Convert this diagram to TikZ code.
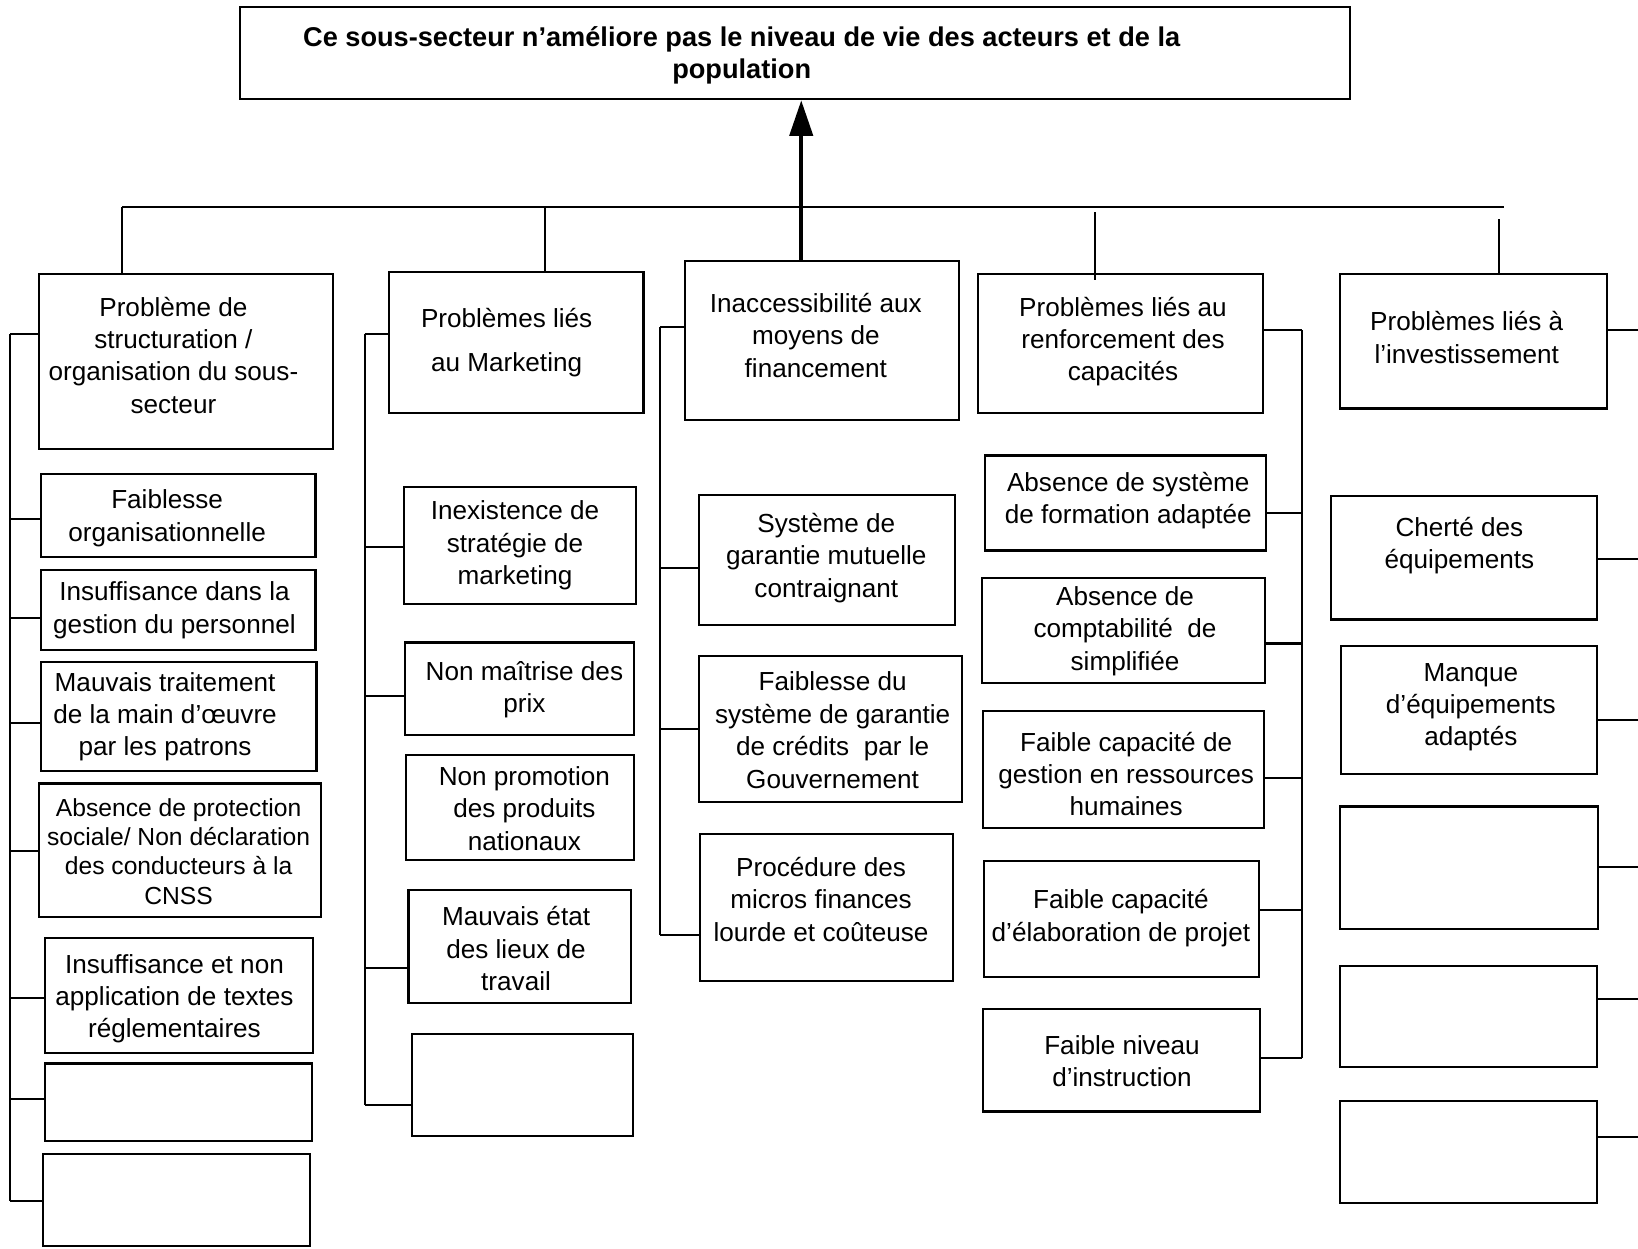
\documentclass[tikz,border=0pt]{standalone}
\usepackage{fontspec}
\setmainfont{Liberation Sans}
\usetikzlibrary{fit,arrows.meta}
\tikzset{
  boxst/.style={draw, line width=1pt, inner sep=0pt},
  txt/.style={align=center, inner sep=0pt, font=\fontsize{12.5}{15.5}\selectfont},
  conn/.style={line width=1pt},
  bigarrow/.style={line width=2pt, -{Triangle[length=17pt,width=11pt]}}
}
\newcommand{\bx}[5]{\node[boxst, fit={(#2,#3) (#4,#5)}] (#1) {};}
\newcommand{\stubL}[3]{\coordinate (s#1) at (#2,#3); \draw[conn] (s#1) -- (#1.west |- s#1);}
\newcommand{\stubR}[3]{\coordinate (s#1) at (#2,#3); \draw[conn] (s#1) -- (#1.east |- s#1);}
\begin{document}
\begin{tikzpicture}[x=0.5pt,y=-0.5pt]
\useasboundingbox (0,0) rectangle (1568,1195);
% boxes
\bx{title}{230}{7}{1292}{95}
\bx{h1}{37}{262}{319}{430}
\bx{c11}{39}{454}{302}{533}
\bx{c12}{39}{546}{302}{622}
\bx{c13}{39}{634}{303}{738}
\bx{c14}{37}{750}{307}{878}
\bx{c15}{43}{898}{300}{1008}
\bx{c16}{43}{1018}{299}{1092}
\bx{c17}{41}{1105}{297}{1193}
\bx{h2}{372}{260}{616}{395}
\bx{c21}{387}{466}{609}{578}
\bx{c22}{388}{615}{607}{704}
\bx{c23}{389}{723}{607}{823}
\bx{c24}{391}{852}{604}{960}
\bx{c25}{394}{990}{606}{1087}
\bx{h3}{656}{250}{918}{402}
\bx{c31}{669}{474}{914}{598}
\bx{c32}{669}{628}{921}{768}
\bx{c33}{670}{798}{912}{939}
\bx{h4}{936}{262}{1209}{395}
\bx{c41}{943}{436}{1212}{527}
\bx{c42}{940}{553}{1211}{654}
\bx{c43}{941}{681}{1210}{793}
\bx{c44}{942}{824}{1205}{935}
\bx{c45}{941}{966}{1206}{1064}
\bx{h5}{1283}{262}{1538}{391}
\bx{c51}{1274}{475}{1529}{593}
\bx{c52}{1284}{618}{1529}{741}
\bx{c53}{1283}{772}{1530}{889}
\bx{c54}{1283}{925}{1529}{1021}
\bx{c55}{1283}{1054}{1529}{1152}
% texts
\node[txt, font=\bfseries\fontsize{13}{15.5}\selectfont] (title-t) at (710,53) {Ce sous-secteur n’améliore pas le niveau de vie des acteurs et de la\\population};
\node[txt] (h1-t) at (166,340) {Problème de\\structuration /\\organisation du sous-\\secteur};
\node[txt] (c11-t) at (160,496) {Faiblesse\\organisationnelle};
\node[txt] (c12-t) at (167,584) {Insuffisance dans la\\gestion du personnel};
\node[txt] (c13-t) at (158,686) {Mauvais traitement\\de la main d’œuvre\\par les patrons};
\node[txt, font=\fontsize{11.8}{14}\selectfont] (c14-t) at (171,815) {Absence de protection\\sociale/ Non déclaration\\des conducteurs à la\\CNSS};
\node[txt] (c15-t) at (167,956) {Insuffisance et non\\application de textes\\réglementaires};
\node[txt] (h2-t) at (485,328) {Problèmes liés\\[5.5pt]au Marketing};
\node[txt] (c21-t) at (493,522) {Inexistence de\\stratégie de\\marketing};
\node[txt] (c22-t) at (502,660) {Non maîtrise des\\prix};
\node[txt] (c23-t) at (502,774) {Non promotion\\des produits\\nationaux};
\node[txt] (c24-t) at (494,908) {Mauvais état\\des lieux de\\travail};
\node[txt] (h3-t) at (781,321) {Inaccessibilité aux\\moyens de\\financement};
\node[txt] (c31-t) at (791,534) {Système de\\garantie mutuelle\\contraignant};
\node[txt] (c32-t) at (797,699) {Faiblesse du\\système de garantie\\de crédits~~par le\\Gouvernement};
\node[txt] (c33-t) at (786,861) {Procédure des\\micros finances\\lourde et coûteuse};
\node[txt] (h4-t) at (1075,327) {Problèmes liés au\\renforcement des\\capacités};
\node[txt] (c41-t) at (1080,479) {Absence de système\\de formation adaptée};
\node[txt] (c42-t) at (1077,604) {Absence de\\comptabilité~~de\\simplifiée};
\node[txt] (c43-t) at (1078,741) {Faible capacité de\\gestion en ressources\\humaines};
\node[txt] (c44-t) at (1073,879) {Faible capacité\\d’élaboration de projet};
\node[txt] (c45-t) at (1074,1016) {Faible niveau\\d’instruction};
\node[txt] (h5-t) at (1404,323) {Problèmes liés à\\l’investissement};
\node[txt] (c51-t) at (1397,522) {Cherté des\\équipements};
\node[txt] (c52-t) at (1408,677) {Manque\\d’équipements\\adaptés};
% top tree
\coordinate (barL) at (117,198);
\coordinate (barR) at (1440,198);
\draw[conn] (barL) -- (barR);
\draw[conn] (barL) -- (barL |- h1.north);
\coordinate (d2) at (522,198);
\draw[conn] (d2) -- (d2 |- h2.north);
\coordinate (d4) at (1048,203);
\coordinate (d4b) at (1048,268);
\draw[conn] (d4) -- (d4b);
\coordinate (d5) at (1435,210);
\draw[conn] (d5) -- (d5 |- h5.north);
\coordinate (ax) at (767,0);
\draw[bigarrow] (ax |- h3.north) -- (ax |- title.south);
% bracket column 1
\coordinate (sp1t) at (10,320);
\coordinate (sp1b) at (10,1150);
\draw[conn] (sp1t) -- (sp1b);
\stubL{h1}{10}{320}
\stubL{c11}{10}{497}
\stubL{c12}{10}{592}
\stubL{c13}{10}{692}
\stubL{c14}{10}{815}
\stubL{c15}{10}{955}
\stubL{c16}{10}{1052}
\stubL{c17}{10}{1150}
% bracket column 2
\coordinate (sp2t) at (349,320);
\coordinate (sp2b) at (349,1058);
\draw[conn] (sp2t) -- (sp2b);
\stubL{h2}{349}{320}
\stubL{c21}{349}{524}
\stubL{c22}{349}{666}
\stubL{c24}{349}{927}
\stubL{c25}{349}{1058}
% bracket column 3
\coordinate (sp3t) at (632,313);
\coordinate (sp3b) at (632,895);
\draw[conn] (sp3t) -- (sp3b);
\stubL{h3}{632}{313}
\stubL{c31}{632}{544}
\stubL{c32}{632}{698}
\stubL{c33}{632}{895}
% bracket column 4
\coordinate (sp4t) at (1246,316);
\coordinate (sp4b) at (1246,1013);
\draw[conn] (sp4t) -- (sp4b);
\stubR{h4}{1246}{316}
\stubR{c41}{1246}{491}
\stubR{c42}{1246}{616}
\stubR{c43}{1246}{745}
\stubR{c44}{1246}{871}
\stubR{c45}{1246}{1013}
% stubs column 5
\stubR{h5}{1568}{316}
\stubR{c51}{1568}{535}
\stubR{c52}{1568}{689}
\stubR{c53}{1568}{830}
\stubR{c54}{1568}{956}
\stubR{c55}{1568}{1088}
\end{tikzpicture}
\end{document}
